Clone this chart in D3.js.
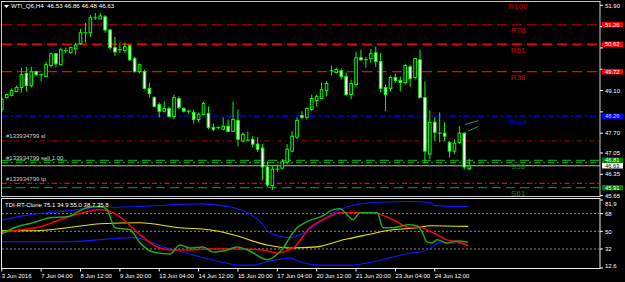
<!DOCTYPE html>
<html>
<head>
<meta charset="utf-8">
<script src="https://d3js.org/d3.v7.min.js"></script>
<style>
body { margin: 0; background: #000; }
svg { display: block; background: #000; }
text { font-family: "Liberation Sans", Arial, sans-serif; white-space: pre; }
</style>
</head>
<body>
<script>
// ---- data ----
const symbol = 'WTI_Q6,H4'
const lastBar = [46.53, 46.86, 46.48, 46.63]

const opens  = [48.48,48.87,48.94,49.07,49.20,49.66,49.26,49.72,49.62,49.56,49.92,50.31,49.95,50.41,50.34,50.47,50.64,51.00,51.00,51.49,51.45,51.52,51.09,50.51,50.44,50.41,50.57,50.15,49.72,49.72,49.17,48.87,48.64,48.42,48.51,48.25,48.84,48.51,48.42,48.38,48.15,48.32,48.35,47.89,47.89,47.83,47.93,47.76,48.12,47.44,47.47,47.50,47.34,47.21,46.59,45.97,46.52,46.55,46.75,47.11,47.57,48.28,48.22,48.48,48.77,48.84,49.10,49.75,49.69,49.75,49.56,48.97,49.30,50.18,50.11,50.15,50.34,50.05,49.20,49.17,49.53,49.43,49.36,49.88,49.53,50.11,48.87,47.01,48.06,47.70,47.70,47.40,47.11,47.40,47.70,46.53]
const highs  = [48.91,49.00,49.17,49.26,49.85,49.88,49.88,49.75,49.66,50.05,50.34,50.34,50.51,50.51,50.54,50.67,51.13,51.32,51.58,51.65,51.65,51.58,51.13,50.86,50.67,50.67,50.60,50.21,49.98,49.79,49.36,48.91,48.71,48.74,48.58,48.97,48.91,48.55,48.48,48.48,48.38,48.74,48.58,48.02,47.93,48.22,48.15,48.74,48.48,47.73,47.76,47.60,47.57,47.34,46.78,46.62,46.68,46.85,47.34,47.76,48.22,48.42,48.55,48.97,48.97,49.36,49.40,49.92,49.85,49.82,49.69,49.46,50.37,50.44,50.21,50.47,50.54,50.34,49.30,49.59,49.66,49.56,49.98,49.95,50.18,50.44,49.40,48.45,48.22,48.38,48.06,47.44,47.50,47.93,47.73,46.86]
const lows   = [48.38,48.84,48.91,49.04,49.04,49.07,49.20,49.56,49.40,49.56,49.85,49.85,49.92,50.34,50.31,50.28,50.60,50.67,50.86,51.42,51.45,51.00,50.44,50.24,50.34,50.34,50.08,49.69,49.66,49.13,48.87,48.55,48.22,48.38,48.22,48.15,48.48,48.38,48.32,48.02,48.06,48.28,47.83,47.76,47.83,47.79,47.73,47.73,47.27,47.40,47.44,47.24,47.08,46.16,45.93,45.84,46.42,46.52,46.68,47.08,47.50,48.15,48.15,48.42,48.58,48.81,48.91,49.59,49.66,49.46,48.91,48.81,49.23,50.08,49.85,50.02,49.88,49.04,48.42,49.07,49.36,49.07,49.30,49.23,49.46,48.84,46.72,46.85,47.44,47.40,47.44,46.91,47.01,47.34,46.52,46.48]
const closes = [48.81,48.97,49.10,49.20,49.62,49.26,49.72,49.62,49.62,49.95,50.31,49.98,50.44,50.41,50.51,50.60,51.00,51.00,51.49,51.49,51.55,51.09,50.51,50.37,50.44,50.54,50.11,49.72,49.95,49.17,49.00,48.58,48.42,48.51,48.25,48.87,48.55,48.42,48.42,48.15,48.32,48.68,47.89,47.83,47.89,47.93,47.76,48.15,47.50,47.66,47.47,47.34,47.17,46.59,46.00,46.52,46.52,46.78,47.17,47.60,48.12,48.22,48.51,48.84,48.91,49.13,49.33,49.75,49.79,49.56,48.97,49.33,50.18,50.11,50.11,50.31,50.05,49.17,48.97,49.53,49.43,49.36,49.92,49.49,50.15,48.87,47.11,48.06,47.73,47.70,47.60,47.11,47.37,47.70,46.59,46.63]

const timeLabels = ['3 Jun 2016','7 Jun 04:00','8 Jun 12:00','9 Jun 20:00','13 Jun 04:00','14 Jun 12:00','15 Jun 20:00','17 Jun 04:00','20 Jun 12:00','21 Jun 20:00','23 Jun 04:00','24 Jun 12:00']
const timeLabelBars = [0, 8, 16, 24, 32, 40, 48, 56, 64, 72, 80, 88]

const priceTicks = [51.90, 51.20, 50.50, 49.80, 49.10, 48.40, 47.70, 47.05, 46.35, 45.65]

const levelNames  = ['R100', 'R78', 'R61', 'R38', 'Pivot', 'S38', 'S61']
const levelValues = [52.07, 51.26, 50.62, 49.72, 48.26, 46.81, 45.91]

const orderNames  = ['#133934799 sl', '#133934799 sell 1.00', '#133934799 tp']
const orderValues = [47.45, 46.73, 46.05]

// small trend segments near the last bars: [bar, price, bar, price]
const trendA = [94.1, 47.98, 96.9, 48.11]
const trendB = [94.8, 47.77, 96.9, 47.92]

// TDI indicator, [bar, value]
const tdiTitle = 'TDI-RT-Clone 75.1 34.9 55.0 38.7 35.8'
const tdiLevels = [68, 50, 32]
const tdiTicks = [81.9, 68, 50, 32, 12.6]
const upperBand = [[-0.4,60.8],[5.7,67.0],[11.8,70.1],[20,74.2],[28.1,75.2],[40.3,78.0],[47,74.2],[52.5,59.8],[54.5,48.5],[58.6,43.6],[60.6,46.4],[64.7,59.8],[68.7,72.1],[75.5,79.3],[83,80.3],[87,79.3],[88,76.2],[94.8,75.1]]
const lowerBand = [[-0.4,39.5],[13.3,39.5],[26.7,43.6],[33.6,33.0],[40.3,24.1],[44.4,18.9],[48.4,15.5],[51.1,15.5],[53.9,18.9],[58.6,22.7],[60.6,18.9],[64.7,15.5],[70.8,15.5],[74.2,17.6],[79.5,23.7],[83,27.9],[85,28.9],[87.6,34.1],[88.7,38.2],[92.7,38.2],[94.8,34.9]]
const marketBase = [[-0.4,50.5],[6.3,50.5],[13.3,53.6],[20,57.7],[28.1,58.7],[36.2,53.6],[42.3,51.5],[47,46.4],[53.9,36.1],[58.6,33.0],[64.1,34.1],[69.4,41.3],[74.2,46.4],[79.5,51.5],[84.4,53.6],[87,55.7],[94.8,55.0]]
const rsiPrice = [[-0.4,46.4],[3.1,54.6],[6.3,58.7],[9.8,63.9],[13.3,64.9],[17.3,74.1],[20,75.2],[21.4,72.1],[23,53.6],[26.1,51.5],[28.1,38.2],[30.7,28.9],[34.2,26.9],[36.2,36.1],[38.3,33.0],[40.9,34.1],[42.9,28.9],[45.8,31.0],[47.8,34.1],[50.4,29.9],[53.9,21.0],[56.5,28.9],[60,53.6],[62,59.8],[65.3,66.0],[67.3,72.1],[68.7,73.1],[70.2,66.9],[71.4,61.8],[72.8,69.0],[76.3,69.0],[77.5,53.6],[79.5,53.6],[82.6,56.7],[84.4,55.7],[85.4,49.5],[86.4,39.2],[87.4,38.2],[88.5,41.3],[90.5,38.2],[92.7,40.2],[94.8,38.7]]
const signalLine = [[-0.4,48.5],[3.7,51.5],[7.8,54.6],[11.8,61.8],[16.5,69.0],[20,72.1],[22.6,69.0],[25.5,58.7],[28.1,46.4],[32.2,33.0],[34.8,31.0],[37.6,31.0],[42.3,32.0],[47,32.0],[53.1,31.0],[55.9,27.9],[59.2,33.0],[62.6,53.6],[66.1,63.9],[68.7,69.0],[72.2,69.0],[75.4,69.0],[79.5,61.8],[83,53.6],[85,54.6],[86.4,51.5],[88.5,46.4],[90.5,41.3],[92.7,39.2],[94.8,35.8]]

// ---- drawing ----
const W = 625, H = 282
const svg = d3.select('body').append('svg').attr('width', W).attr('height', H)

const x = d3.scaleLinear().domain([0, 95]).range([1.8, 469.2])
const y = d3.scaleLinear().domain([45.65, 51.90]).range([195.6, 5.3])
const yi = d3.scaleLinear().domain([12.6, 81.9]).range([268, 200])

const defs = svg.append('defs')
defs.append('clipPath').attr('id', 'clipMain').append('rect').attr('x', 2).attr('y', 2).attr('width', 598).attr('height', 194)
defs.append('clipPath').attr('id', 'clipInd').append('rect').attr('x', 2).attr('y', 199).attr('width', 598).attr('height', 69)

const green = '#00ff00'

// horizontal level lines (under candles)
const main = svg.append('g').attr('clip-path', 'url(#clipMain)')
const levelStyle = {
  R100: ['#c00000', '10,5'], R78: ['#b00000', '10,5'], R61: ['#ff0000', '10,5'], R38: ['#ff0000', '10,5'],
  Pivot: ['#0000ff', '6,3,2,3'], S38: ['#00a000', '9,5'], S61: ['#008a00', '9,5']
}
main.selectAll('line.level').data(levelNames).join('line')
  .attr('class', 'level')
  .attr('x1', 2).attr('x2', 600)
  .attr('y1', (d, i) => y(levelValues[i])).attr('y2', (d, i) => y(levelValues[i]))
  .attr('stroke', d => levelStyle[d][0])
  .attr('stroke-dasharray', d => levelStyle[d][1])
  .attr('stroke-width', 1.3)

const orderStyle = [['#8b0000', '5,3,1.5,3'], ['#00a000', '6,3,2,3'], ['#ff0000', '5,3,1.5,3']]
main.selectAll('line.order').data(orderNames).join('line')
  .attr('class', 'order')
  .attr('x1', 2).attr('x2', 600)
  .attr('y1', (d, i) => y(orderValues[i])).attr('y2', (d, i) => y(orderValues[i]))
  .attr('stroke', (d, i) => orderStyle[i][0])
  .attr('stroke-dasharray', (d, i) => orderStyle[i][1])
  .attr('stroke-width', 1.2)

// bid line
main.append('line')
  .attr('x1', 2).attr('x2', 600)
  .attr('y1', y(lastBar[3])).attr('y2', y(lastBar[3]))
  .attr('stroke', '#b8b8b8').attr('stroke-width', 1)

// level names
main.selectAll('text.lvl').data(levelNames).join('text')
  .attr('class', 'lvl')
  .attr('x', 518).attr('y', (d, i) => y(levelValues[i]) + 8.4)
  .attr('text-anchor', 'middle')
  .attr('font-size', 8)
  .attr('fill', d => d[0] === 'R' ? '#d00000' : d === 'Pivot' ? '#0000ee' : '#178017')
  .text(d => d)

// order labels
main.selectAll('text.ord').data(orderNames).join('text')
  .attr('class', 'ord')
  .attr('x', 6).attr('y', (d, i) => y(orderValues[i]) - 2.5)
  .attr('font-size', 6)
  .attr('fill', '#d0d0d0')
  .text(d => d)

// trend segments
main.selectAll('line.trend').data([trendA, trendB]).join('line')
  .attr('x1', d => x(d[0])).attr('y1', d => y(d[1]))
  .attr('x2', d => x(d[2])).attr('y2', d => y(d[3]))
  .attr('stroke', '#2f8f2f').attr('stroke-width', 1)

// candles
const bars = d3.range(opens.length)
main.selectAll('line.wick').data(bars).join('line')
  .attr('class', 'wick')
  .attr('x1', i => x(i)).attr('x2', i => x(i))
  .attr('y1', i => y(highs[i])).attr('y2', i => y(lows[i]))
  .attr('stroke', green)
main.selectAll('rect.body').data(bars.filter(i => opens[i] !== closes[i])).join('rect')
  .attr('class', 'body')
  .attr('x', i => x(i) - 1.3).attr('width', 2.6)
  .attr('y', i => y(Math.max(opens[i], closes[i])))
  .attr('height', i => Math.abs(y(opens[i]) - y(closes[i])))
  .attr('fill', i => closes[i] < opens[i] ? '#fff' : '#000')
  .attr('stroke', green)
main.selectAll('line.doji').data(bars.filter(i => opens[i] === closes[i])).join('line')
  .attr('class', 'doji')
  .attr('x1', i => x(i) - 2).attr('x2', i => x(i) + 2)
  .attr('y1', i => y(opens[i])).attr('y2', i => y(opens[i]))
  .attr('stroke', green)

// header
svg.append('path').attr('d', 'M4,5 L9,5 L6.5,8 Z').attr('fill', '#fff')
svg.append('text').attr('x', 11).attr('y', 8.3).attr('font-size', 6.2).attr('fill', '#fff')
  .text(symbol + '  ' + lastBar.map(v => v.toFixed(2)).join(' '))

// frames
svg.append('rect').attr('x', 1.5).attr('y', 1.5).attr('width', 598.5).attr('height', 195)
  .attr('fill', 'none').attr('stroke', '#c8c8c8')
svg.append('rect').attr('x', 1.5).attr('y', 198.5).attr('width', 598.5).attr('height', 70)
  .attr('fill', 'none').attr('stroke', '#e8e8e8')

// value boxes on the axis
const boxValues = [levelValues[1], levelValues[2], levelValues[3], levelValues[4], levelValues[5], lastBar[3], levelValues[6]]
const boxFill   = ['#ff0000', '#ff0000', '#ff0000', '#0000ff', '#008000', '#ffffff', '#008000']
const boxText   = ['#fff', '#fff', '#fff', '#d0d0ff', '#fff', '#000', '#fff']

// price axis: ticks hidden by a value box are not drawn
const axis = svg.append('g')
const shownTicks = priceTicks.filter(t => boxValues.every(b => Math.abs(y(t) - y(b)) > 6.5))
axis.selectAll('text.pt').data(shownTicks).join('text')
  .attr('x', 605).attr('y', d => y(d) + 2.2)
  .attr('font-size', 6).attr('fill', '#fff')
  .text(d => d.toFixed(2))
axis.selectAll('line.pt').data(priceTicks).join('line')
  .attr('x1', 600).attr('x2', 603).attr('y1', d => y(d)).attr('y2', d => y(d))
  .attr('stroke', '#fff')

const boxes = axis.selectAll('g.box').data(boxValues).join('g')
  .attr('transform', d => `translate(602, ${y(d)})`)
boxes.append('rect').attr('x', 0).attr('y', -2.7).attr('width', 21).attr('height', 5.4)
  .attr('fill', (d, i) => boxFill[i])
boxes.append('text').attr('x', 3).attr('y', 2.1).attr('font-size', 5.8)
  .attr('fill', (d, i) => boxText[i])
  .text(d => d.toFixed(2))

// ---- TDI window ----
const ind = svg.append('g').attr('clip-path', 'url(#clipInd)')
ind.selectAll('line.lv').data(tdiLevels).join('line')
  .attr('x1', 2).attr('x2', 600).attr('y1', d => yi(d)).attr('y2', d => yi(d))
  .attr('stroke', '#8a8a8a').attr('stroke-dasharray', '2,2')

const tdiLine = d3.line().x(d => x(d[0])).y(d => yi(d[1])).curve(d3.curveMonotoneX)
const series = [
  [upperBand, '#1414ff', 1.1],
  [lowerBand, '#1414ff', 1.1],
  [marketBase, '#e6e600', 1.1],
  [signalLine, '#ff0000', 1.5],
  [rsiPrice, '#1aaa1a', 1.5]
]
ind.selectAll('path.tdi').data(series).join('path')
  .attr('d', d => tdiLine(d[0]))
  .attr('fill', 'none')
  .attr('stroke', d => d[1])
  .attr('stroke-width', d => d[2])

svg.append('text').attr('x', 5).attr('y', 206.5).attr('font-size', 6).attr('fill', '#fff').text(tdiTitle)

axis.selectAll('text.it').data(tdiTicks).join('text')
  .attr('x', 605).attr('y', d => Math.min(Math.max(yi(d), 203.5), 265.5) + 2.2)
  .attr('font-size', 6).attr('fill', '#fff')
  .text(d => d)
axis.selectAll('line.it').data(tdiTicks).join('line')
  .attr('x1', 600).attr('x2', 603).attr('y1', d => yi(d)).attr('y2', d => yi(d))
  .attr('stroke', '#fff')

// time axis
axis.selectAll('text.tl').data(timeLabels).join('text')
  .attr('x', (d, i) => x(timeLabelBars[i]))
  .attr('y', 277.5)
  .attr('font-size', 6).attr('fill', '#fff')
  .text(d => d)
axis.selectAll('line.tl').data(timeLabelBars).join('line')
  .attr('x1', d => x(d)).attr('x2', d => x(d)).attr('y1', 268.5).attr('y2', 271.5)
  .attr('stroke', '#fff')
</script>
</body>
</html>
